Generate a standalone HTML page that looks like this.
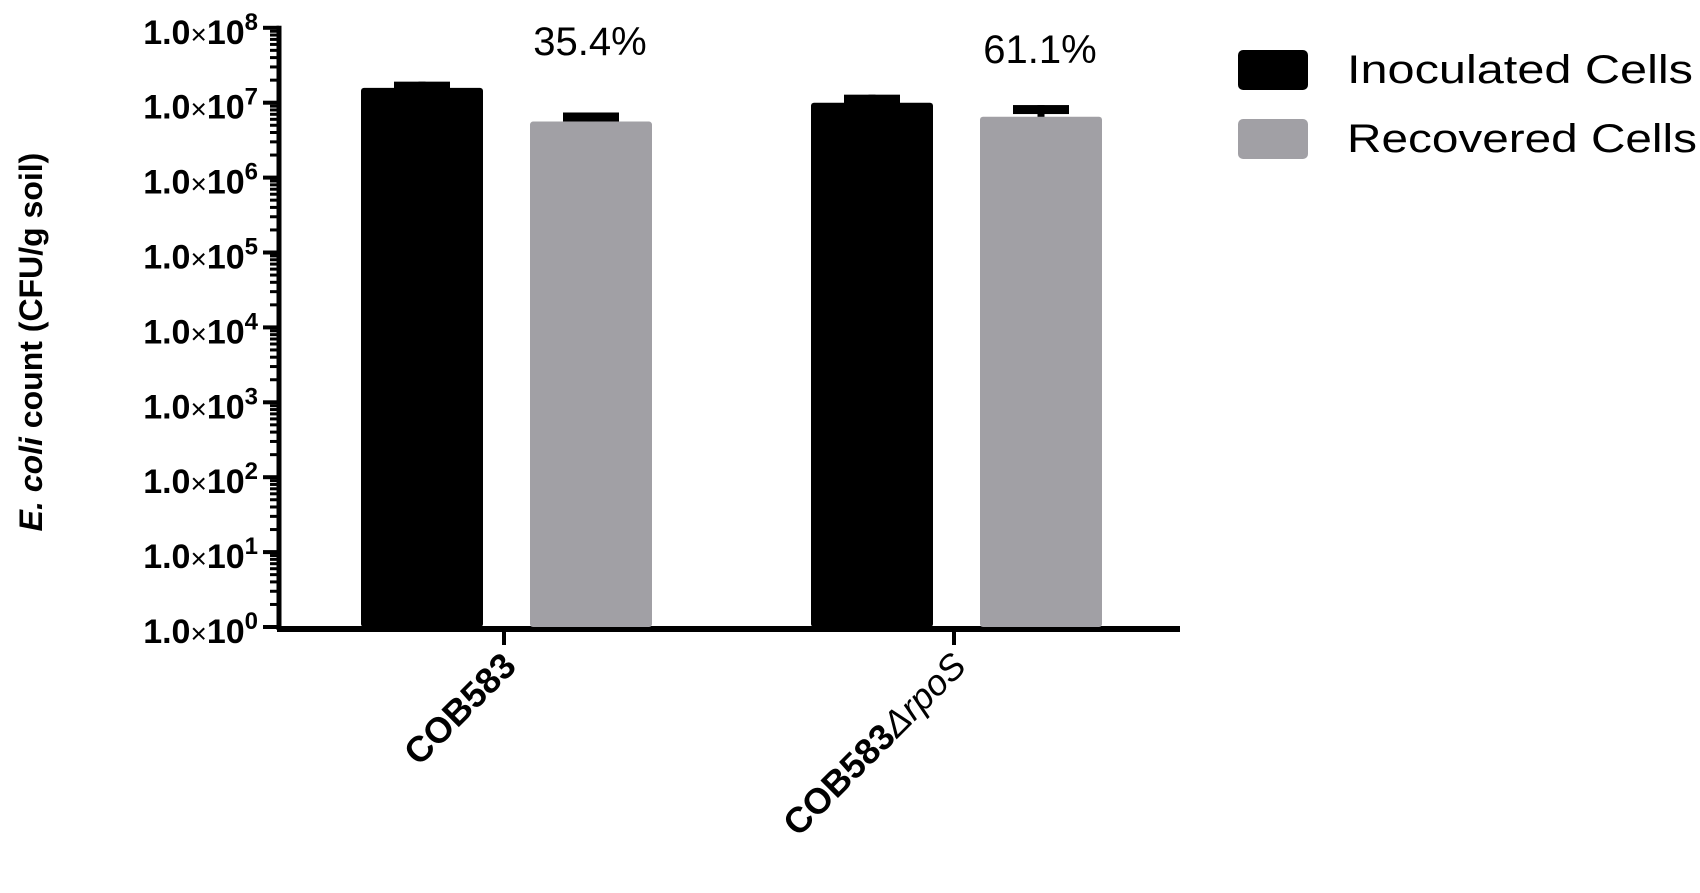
<!DOCTYPE html>
<html><head><meta charset="utf-8"><style>
html,body{margin:0;padding:0;background:#fff;}
svg{display:block;font-family:"Liberation Sans",Arial,sans-serif;}
</style></head><body>
<svg id="chart" width="1700" height="893" viewBox="0 0 1700 893">
<g id="axes"></g><g id="bars"></g><g id="labels"></g>
<text transform="translate(42,342) rotate(-90)" text-anchor="middle" font-size="32" font-weight="bold"><tspan font-style="italic">E. coli</tspan> count (CFU/g soil)</text>
<g>
<rect x="1238" y="50" width="70" height="40" rx="5" fill="#000"/>
<text x="1347" y="83" font-size="40" textLength="346" lengthAdjust="spacingAndGlyphs">Inoculated Cells</text>
<rect x="1238" y="119" width="70" height="40" rx="5" fill="#a1a0a5"/>
<text x="1347" y="152" font-size="40" textLength="350" lengthAdjust="spacingAndGlyphs">Recovered Cells</text>
</g>
</svg>
<script>
const categories = ["COB583", "COB583ΔrpoS"];
const inoculated = [1.58e7, 1.0e7];
const inoculatedErr = [0.33e7, 0.28e7];
const recovered = [5.6e6, 6.5e6];
const recoveredErr = [1.8e6, 2.8e6];
const percentLabels = ["35.4%", "61.1%"];
const yExponents = [0,1,2,3,4,5,6,7,8];

const NS = "http://www.w3.org/2000/svg";
const y0 = 627, dec = 74.9, axX = 279;
function yScale(v){ return y0 - Math.log10(Math.max(v,1)) * dec; }
const groupCenters = [504, 954];
function xGroup(i){ return groupCenters[0] + i*(groupCenters[1]-groupCenters[0]); }
function mk(tag, attrs, parent){ const e=document.createElementNS(NS,tag); for(const k in attrs) e.setAttribute(k, attrs[k]); parent.appendChild(e); return e; }
const axes=document.getElementById('axes'), bars=document.getElementById('bars'), labels=document.getElementById('labels');

// y axis
let ya = mk('line',{x1:axX,y1:yScale(1e8)-2,x2:axX,y2:y0+3,stroke:'#000','stroke-width':5},axes);


let xa = mk('line',{x1:axX-2,y1:y0+2,x2:1180,y2:y0+2,stroke:'#000','stroke-width':6},axes);


yExponents.forEach(e=>{
  const y=yScale(Math.pow(10,e));
  const t=mk('line',{x1:axX-16,y1:y,x2:axX,y2:y,stroke:'#000','stroke-width':4},axes);
  
  
  const lab=mk('text',{x:258,y:y+16,'text-anchor':'end','font-size':34,'font-weight':'bold'},labels);
  
  
  lab.innerHTML='1.0<tspan font-weight="normal" font-size="28">×</tspan>10<tspan dy="-14" font-size="24">'+e+'</tspan>';
  if(e<8){ for(let m=2;m<=9;m++){ const ym=yScale(m*Math.pow(10,e));
    const mt=mk('line',{x1:axX-9,y1:ym,x2:axX,y2:ym,stroke:'#000','stroke-width':3},axes);
    
     } }
});
const bw=122, off=[-143+bw/2, 26+bw/2];
function bar(cx,val,err,color,name){
  const top=yScale(val);
  const eTop=yScale(val+err);
  const stem=mk('line',{x1:cx,y1:eTop,x2:cx,y2:top+2,stroke:'#000','stroke-width':7},bars);
  
  
  const cap=mk('rect',{x:cx-28,y:eTop,width:56,height:9,fill:'#000'},bars);
  
  
  const r=mk('rect',{x:cx-bw/2,y:top,width:bw,height:y0-top,rx:3,fill:color},bars);
  
  
}
categories.forEach((c,i)=>{
  const gx=xGroup(i);
  bar(gx-82, inoculated[i], inoculatedErr[i], '#000', 'bar-inoculated-'+(i+1));
  bar(gx+87, recovered[i], recoveredErr[i], '#a1a0a5', 'bar-recovered-'+(i+1));
  const t=mk('line',{x1:gx,y1:y0,x2:gx,y2:645,stroke:'#000','stroke-width':4},axes);
  
  
  const pl=mk('text',{x:gx+86,y:i==0?55:63,'text-anchor':'middle','font-size':40},labels);
  
  
  pl.textContent=percentLabels[i];
  const xl=mk('text',{transform:'translate('+(gx+14)+',668) rotate(-45)','text-anchor':'end','font-size':36,'font-weight':'bold'},labels);
  
  
  const m=c.indexOf('Δ');
  if(m<0) xl.textContent=c;
  else xl.innerHTML=c.slice(0,m)+'<tspan font-weight="normal" font-style="italic">'+c.slice(m)+'</tspan>';
});
</script>
</body></html>
